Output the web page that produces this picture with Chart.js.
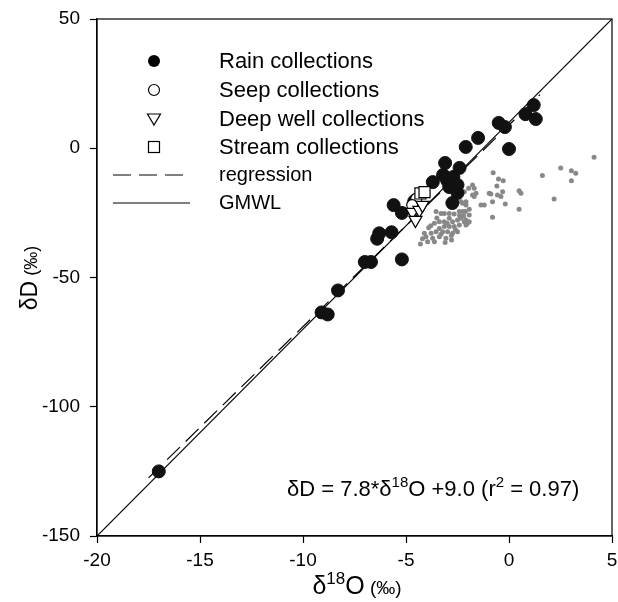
<!DOCTYPE html>
<html><head><meta charset="utf-8">
<script src="https://cdn.jsdelivr.net/npm/chart.js@4/dist/chart.umd.min.js"></script>
<style>html,body{margin:0;padding:0;background:#fff}#wrap{width:618px;height:602px}</style>
</head><body><div id="wrap"><canvas id="c" width="618" height="602"></canvas></div>
<script>
// ---- data (δ18O ‰, δD ‰) ----
const rainD18O = [-17.0,-9.1,-8.8,-8.3,-7.0,-6.7,-5.2,-6.4,-6.3,-5.7,-5.6,-5.2,-4.6,-3.7,-3.0,-3.2,-2.7,-2.9,-2.5,-2.5,-2.75,-3.1,-2.4,-2.1,-1.5,0.0,-0.5,-0.2,0.8,1.2,1.3];
const rainDD   = [-125,-63.5,-64.3,-55,-44,-44,-43,-35.0,-32.9,-32.5,-22,-25,-20.5,-13.1,-12.5,-10.3,-11.1,-15.0,-14.2,-17.3,-21.2,-5.7,-7.6,0.5,4.0,-0.3,9.8,8.2,13.2,16.7,11.3];
const seepD18O = [-4.5,-4.7];
const seepDD   = [-19.5,-22.0];
const deepD18O = [-4.69,-4.35,-4.54,-4.2];
const deepDD   = [-24.7,-23.9,-27.8,-22.0];
const streamD18O = [-4.3,-4.1];
const streamDD   = [-17.5,-17.0];
const otherD18O = [4.13,2.51,3.03,3.24,3.03,1.62,2.19,-0.77,-0.51,-0.28,-0.59,-0.31,-0.96,-0.88,-0.56,-0.39,0.49,0.58,-0.80,-0.18,-1.20,-1.36,0.49,-0.80,-1.93,-1.77,-1.69,-1.96,-2.17,-1.77,-1.60,-1.69,-2.33,-2.09,-2.66,-2.57,-2.25,-2.09,-2.12,-2.25,-2.41,-1.93,-1.93,-2.09,-3.54,-3.30,-3.14,-2.90,-2.66,-3.62,-3.38,-3.14,-2.90,-2.74,-2.50,-2.33,-2.17,-2.01,-3.38,-3.14,-2.90,-2.66,-2.41,-2.09,-3.78,-3.54,-3.22,-2.98,-2.74,-2.50,-4.11,-4.03,-3.71,-3.38,-3.06,-3.95,-3.62,-2.79,-4.3,-3.0,-2.6,-3.3,-2.4,-3.8,-4.2,-3.5,-2.8,-3.9,-2.2,-3.1];
const otherDD   = [-3.5,-7.6,-8.7,-9.7,-12.6,-10.5,-19.6,-9.5,-11.9,-12.6,-14.6,-16.8,-17.4,-17.7,-18.1,-18.7,-16.4,-17.4,-20.7,-21.6,-22.0,-22.0,-23.6,-26.7,-23.6,-14.2,-15.5,-15.5,-16.8,-18.1,-17.4,-18.7,-20.7,-20.7,-20.0,-21.3,-21.3,-22.0,-24.5,-24.5,-24.5,-25.8,-28.4,-27.8,-24.5,-25.2,-25.2,-25.2,-25.4,-29.0,-28.4,-28.4,-27.1,-28.4,-27.8,-27.1,-28.4,-29.0,-31.0,-30.3,-30.3,-30.3,-29.7,-29.7,-32.9,-32.3,-32.3,-32.3,-32.9,-32.3,-32.9,-34.2,-34.8,-34.2,-34.8,-36.2,-36.2,-35.5,-37.0,-29.0,-31.5,-33.3,-26.0,-30.0,-35.0,-27.0,-33.8,-30.8,-26.2,-36.5];
const gmwlD18O = [-20, 5];
const gmwlDD   = [-150, 50];
const regD18O  = [-17.5, 1.5];
const regDD    = [-127.5, 20.7];
const xTicks = [-20,-15,-10,-5,0,5];
const yTicks = [-150,-100,-50,0,50];
const legendLabels = ['Rain collections','Seep collections','Deep well collections','Stream collections','regression','GMWL'];

const pts = (xs, ys) => xs.map((x, i) => ({x, y: ys[i]}));
const FONT = "'Liberation Sans', Arial, Helvetica, sans-serif";

const frame = {
  id: 'frame',
  afterDraw(chart) {
    const {ctx, chartArea: a} = chart;
    ctx.save();
    ctx.strokeStyle = '#000'; ctx.lineWidth = 1.2;
    ctx.strokeRect(a.left, a.top, a.right - a.left, a.bottom - a.top);
    ctx.fillStyle = '#000';
    // legend
    const mx = 154, tx = 219;
    const rows = [61, 90, 119, 147];
    ctx.beginPath(); ctx.arc(mx, rows[0], 6, 0, Math.PI*2); ctx.fill();
    ctx.beginPath(); ctx.arc(mx, rows[1], 5.5, 0, Math.PI*2); ctx.stroke();
    ctx.beginPath(); ctx.moveTo(mx-6.5, rows[2]-5); ctx.lineTo(mx+6.5, rows[2]-5); ctx.lineTo(mx, rows[2]+6); ctx.closePath(); ctx.stroke();
    ctx.strokeRect(mx-5.5, rows[3]-5.5, 11, 11);
    ctx.beginPath(); ctx.setLineDash([18,8]); ctx.moveTo(113, 175); ctx.lineTo(190, 175); ctx.stroke();
    ctx.setLineDash([]);
    ctx.beginPath(); ctx.moveTo(113, 203); ctx.lineTo(190, 203); ctx.stroke();
    ctx.textBaseline = 'middle';
    ctx.font = '22px ' + FONT;
    for (let i = 0; i < 4; i++) ctx.fillText(legendLabels[i], tx, rows[i] + 1);
    ctx.font = '20px ' + FONT;
    ctx.fillText(legendLabels[4], tx, 175);
    ctx.fillText(legendLabels[5], tx, 203);
    ctx.textBaseline = 'alphabetic';
    // equation
    const parts = [
      ['δD = 7.8*δ', 22, 0], ['18', 15, -9], ['O +9.0 (r', 22, 0], ['2', 15, -9], [' = 0.97)', 22, 0]
    ];
    let x = 287;
    for (const [t, s, dy] of parts) {
      ctx.font = s + 'px ' + FONT;
      ctx.fillText(t, x, 496 + dy);
      x += ctx.measureText(t).width;
    }
    // x title
    const xt = [['δ', 25, 0], ['18', 17, -10], ['O', 25, 0], [' (‰)', 19, 0]];
    let w = 0;
    for (const [t, s] of xt) { ctx.font = s + 'px ' + FONT; w += ctx.measureText(t).width; }
    x = 357 - w / 2;
    for (const [t, s, dy] of xt) {
      ctx.font = s + 'px ' + FONT;
      ctx.fillText(t, x, 594 + dy);
      x += ctx.measureText(t).width;
    }
    // y title
    ctx.translate(37, 278);
    ctx.rotate(-Math.PI / 2);
    const yt = [['δD', 23], [' (‰)', 18]];
    w = 0;
    for (const [t, s] of yt) { ctx.font = s + 'px ' + FONT; w += ctx.measureText(t).width; }
    x = -w / 2;
    for (const [t, s] of yt) {
      ctx.font = s + 'px ' + FONT;
      ctx.fillText(t, x, 0);
      x += ctx.measureText(t).width;
    }
    ctx.restore();
  }
};

new Chart(document.getElementById('c'), {
  type: 'scatter',
  data: {
    datasets: [
      { label: legendLabels[3], data: pts(streamD18O, streamDD), order: 0, pointStyle: 'rect', pointRadius: 7.8, pointBackgroundColor: '#fff', pointBorderColor: '#000', pointBorderWidth: 1.2 },
      { label: legendLabels[2], data: pts(deepD18O, deepDD), order: 1, pointStyle: 'triangle', rotation: 180, pointRotation: 180, pointRadius: 7.5, pointBackgroundColor: '#fff', pointBorderColor: '#000', pointBorderWidth: 1.2 },
      { label: legendLabels[1], data: pts(seepD18O, seepDD), order: 2, pointStyle: 'circle', pointRadius: 5.5, pointBackgroundColor: '#fff', pointBorderColor: '#000', pointBorderWidth: 1.2 },
      { label: legendLabels[0], data: pts(rainD18O, rainDD), order: 3, pointStyle: 'circle', pointRadius: 6.5, pointBackgroundColor: '#111', pointBorderColor: '#111', pointBorderWidth: 1 },
      { label: legendLabels[5], data: pts(gmwlD18O, gmwlDD), order: 4, showLine: true, borderColor: '#000', borderWidth: 1.2, pointRadius: 0, fill: false },
      { label: legendLabels[4], data: pts(regD18O, regDD), order: 5, showLine: true, borderColor: '#000', borderWidth: 1.2, borderDash: [18, 8], pointRadius: 0, fill: false },
      { label: 'other', data: pts(otherD18O, otherDD), order: 6, pointStyle: 'circle', pointRadius: 2.5, pointBackgroundColor: '#888', pointBorderColor: '#888', pointBorderWidth: 0 }
    ]
  },
  options: {
    responsive: false,
    animation: false,
    devicePixelRatio: 1,
    layout: { autoPadding: false, padding: { left: 0, right: 6, top: 19, bottom: 0 } },
    plugins: { legend: { display: false }, tooltip: { enabled: false } },
    scales: {
      x: {
        type: 'linear', min: -20, max: 5,
        afterBuildTicks(s) { s.ticks = xTicks.map(v => ({value: v})); },
        afterFit(s) { s.height = 66; s.paddingLeft = 0; s.paddingRight = 0; },
        grid: { drawOnChartArea: false, drawTicks: true, tickLength: 7, tickColor: '#000', tickWidth: 1.2 },
        border: { display: true, color: '#000', width: 1.2 },
        ticks: { color: '#000', font: { family: FONT, size: 19 }, padding: 6, maxRotation: 0, callback: v => String(v) }
      },
      y: {
        type: 'linear', min: -150, max: 50,
        afterBuildTicks(s) { s.ticks = yTicks.map(v => ({value: v})); },
        afterFit(s) { s.width = 97; s.paddingTop = 0; s.paddingBottom = 0; },
        grid: { drawOnChartArea: false, drawTicks: true, tickLength: 7, tickColor: '#000', tickWidth: 1.2 },
        border: { display: true, color: '#000', width: 1.2 },
        ticks: { color: '#000', font: { family: FONT, size: 19 }, padding: 10, callback: v => String(v) }
      }
    }
  },
  plugins: [frame]
});
</script>
</body></html>
